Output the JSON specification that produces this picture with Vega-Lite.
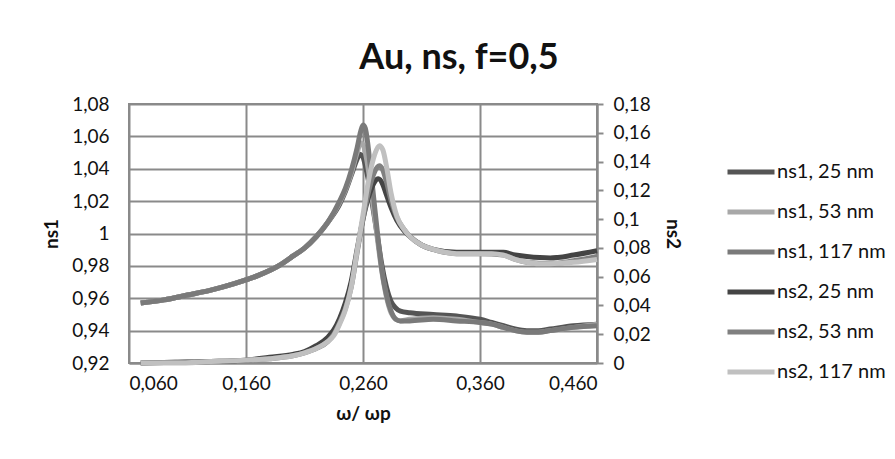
{
  "$schema": "https://vega.github.io/schema/vega-lite/v6.json",
  "autosize": {"type": "none"},
  "padding": {"left": 129, "top": 104, "right": 298, "bottom": 96},
  "width": 468,
  "height": 259,
  "background": "white",
  "config": {
    "locale": {"number": {"decimal": ",", "thousands": ".", "grouping": [3], "currency": ["", " €"]}},
    "font": "Lato",
    "view": {"stroke": "#8a8a8a", "strokeWidth": 2},
    "axis": {"labelFont": "Lato", "labelFontSize": 19, "labelColor": "#111", "titleFont": "Lato", "titleFontSize": 19, "titleFontWeight": "bold", "titleColor": "#111", "gridColor": "#8a8a8a", "gridWidth": 2, "domainColor": "#8a8a8a", "domainWidth": 2, "tickColor": "#8a8a8a", "tickWidth": 2},
    "title": {"font": "Lato", "fontSize": 36, "fontWeight": "bold", "color": "#111"}
  },
  "title": {"text": "Au, ns, f=0,5", "anchor": "middle", "dx": 96, "offset": 18},
  "datasets": {
    "d": [
      {"s": "ns1, 117 nm", "x": 0.07, "y": 0.957},
      {"s": "ns1, 117 nm", "x": 0.09, "y": 0.959},
      {"s": "ns1, 117 nm", "x": 0.11, "y": 0.962},
      {"s": "ns1, 117 nm", "x": 0.13, "y": 0.965},
      {"s": "ns1, 117 nm", "x": 0.15, "y": 0.969},
      {"s": "ns1, 117 nm", "x": 0.17, "y": 0.974},
      {"s": "ns1, 117 nm", "x": 0.19, "y": 0.981},
      {"s": "ns1, 117 nm", "x": 0.2, "y": 0.986},
      {"s": "ns1, 117 nm", "x": 0.21, "y": 0.991},
      {"s": "ns1, 117 nm", "x": 0.22, "y": 0.998},
      {"s": "ns1, 117 nm", "x": 0.23, "y": 1.007},
      {"s": "ns1, 117 nm", "x": 0.24, "y": 1.02},
      {"s": "ns1, 117 nm", "x": 0.245, "y": 1.028},
      {"s": "ns1, 117 nm", "x": 0.25, "y": 1.039},
      {"s": "ns1, 117 nm", "x": 0.255, "y": 1.053},
      {"s": "ns1, 117 nm", "x": 0.258, "y": 1.063},
      {"s": "ns1, 117 nm", "x": 0.26, "y": 1.067},
      {"s": "ns1, 117 nm", "x": 0.262, "y": 1.065},
      {"s": "ns1, 117 nm", "x": 0.264, "y": 1.056},
      {"s": "ns1, 117 nm", "x": 0.266, "y": 1.043},
      {"s": "ns1, 117 nm", "x": 0.268, "y": 1.03},
      {"s": "ns1, 117 nm", "x": 0.27, "y": 1.016},
      {"s": "ns1, 117 nm", "x": 0.273, "y": 0.996},
      {"s": "ns1, 117 nm", "x": 0.276, "y": 0.978},
      {"s": "ns1, 117 nm", "x": 0.28, "y": 0.962},
      {"s": "ns1, 117 nm", "x": 0.284, "y": 0.952},
      {"s": "ns1, 117 nm", "x": 0.288, "y": 0.947},
      {"s": "ns1, 117 nm", "x": 0.292, "y": 0.946},
      {"s": "ns1, 117 nm", "x": 0.3, "y": 0.946},
      {"s": "ns1, 117 nm", "x": 0.32, "y": 0.947},
      {"s": "ns1, 117 nm", "x": 0.34, "y": 0.946},
      {"s": "ns1, 117 nm", "x": 0.36, "y": 0.945},
      {"s": "ns1, 117 nm", "x": 0.37, "y": 0.944},
      {"s": "ns1, 117 nm", "x": 0.38, "y": 0.942},
      {"s": "ns1, 117 nm", "x": 0.39, "y": 0.94},
      {"s": "ns1, 117 nm", "x": 0.4, "y": 0.939},
      {"s": "ns1, 117 nm", "x": 0.41, "y": 0.939},
      {"s": "ns1, 117 nm", "x": 0.42, "y": 0.94},
      {"s": "ns1, 117 nm", "x": 0.44, "y": 0.942},
      {"s": "ns1, 117 nm", "x": 0.46, "y": 0.943},

      {"s": "ns1, 53 nm", "x": 0.07, "y": 0.957},
      {"s": "ns1, 53 nm", "x": 0.09, "y": 0.959},
      {"s": "ns1, 53 nm", "x": 0.11, "y": 0.962},
      {"s": "ns1, 53 nm", "x": 0.13, "y": 0.965},
      {"s": "ns1, 53 nm", "x": 0.15, "y": 0.969},
      {"s": "ns1, 53 nm", "x": 0.17, "y": 0.974},
      {"s": "ns1, 53 nm", "x": 0.19, "y": 0.981},
      {"s": "ns1, 53 nm", "x": 0.2, "y": 0.986},
      {"s": "ns1, 53 nm", "x": 0.21, "y": 0.991},
      {"s": "ns1, 53 nm", "x": 0.22, "y": 0.998},
      {"s": "ns1, 53 nm", "x": 0.23, "y": 1.007},
      {"s": "ns1, 53 nm", "x": 0.24, "y": 1.019},
      {"s": "ns1, 53 nm", "x": 0.245, "y": 1.027},
      {"s": "ns1, 53 nm", "x": 0.25, "y": 1.037},
      {"s": "ns1, 53 nm", "x": 0.255, "y": 1.05},
      {"s": "ns1, 53 nm", "x": 0.258, "y": 1.056},
      {"s": "ns1, 53 nm", "x": 0.26, "y": 1.055},
      {"s": "ns1, 53 nm", "x": 0.262, "y": 1.05},
      {"s": "ns1, 53 nm", "x": 0.264, "y": 1.042},
      {"s": "ns1, 53 nm", "x": 0.266, "y": 1.032},
      {"s": "ns1, 53 nm", "x": 0.268, "y": 1.021},
      {"s": "ns1, 53 nm", "x": 0.27, "y": 1.01},
      {"s": "ns1, 53 nm", "x": 0.273, "y": 0.993},
      {"s": "ns1, 53 nm", "x": 0.276, "y": 0.977},
      {"s": "ns1, 53 nm", "x": 0.28, "y": 0.961},
      {"s": "ns1, 53 nm", "x": 0.284, "y": 0.951},
      {"s": "ns1, 53 nm", "x": 0.288, "y": 0.947},
      {"s": "ns1, 53 nm", "x": 0.292, "y": 0.946},
      {"s": "ns1, 53 nm", "x": 0.3, "y": 0.947},
      {"s": "ns1, 53 nm", "x": 0.32, "y": 0.948},
      {"s": "ns1, 53 nm", "x": 0.34, "y": 0.947},
      {"s": "ns1, 53 nm", "x": 0.36, "y": 0.945},
      {"s": "ns1, 53 nm", "x": 0.37, "y": 0.944},
      {"s": "ns1, 53 nm", "x": 0.38, "y": 0.942},
      {"s": "ns1, 53 nm", "x": 0.39, "y": 0.94},
      {"s": "ns1, 53 nm", "x": 0.4, "y": 0.939},
      {"s": "ns1, 53 nm", "x": 0.41, "y": 0.939},
      {"s": "ns1, 53 nm", "x": 0.42, "y": 0.94},
      {"s": "ns1, 53 nm", "x": 0.44, "y": 0.942},
      {"s": "ns1, 53 nm", "x": 0.46, "y": 0.944},

      {"s": "ns1, 25 nm", "x": 0.07, "y": 0.957},
      {"s": "ns1, 25 nm", "x": 0.09, "y": 0.959},
      {"s": "ns1, 25 nm", "x": 0.11, "y": 0.962},
      {"s": "ns1, 25 nm", "x": 0.13, "y": 0.965},
      {"s": "ns1, 25 nm", "x": 0.15, "y": 0.969},
      {"s": "ns1, 25 nm", "x": 0.17, "y": 0.974},
      {"s": "ns1, 25 nm", "x": 0.19, "y": 0.981},
      {"s": "ns1, 25 nm", "x": 0.2, "y": 0.986},
      {"s": "ns1, 25 nm", "x": 0.21, "y": 0.991},
      {"s": "ns1, 25 nm", "x": 0.22, "y": 0.998},
      {"s": "ns1, 25 nm", "x": 0.23, "y": 1.007},
      {"s": "ns1, 25 nm", "x": 0.24, "y": 1.018},
      {"s": "ns1, 25 nm", "x": 0.245, "y": 1.026},
      {"s": "ns1, 25 nm", "x": 0.25, "y": 1.036},
      {"s": "ns1, 25 nm", "x": 0.255, "y": 1.046},
      {"s": "ns1, 25 nm", "x": 0.257, "y": 1.049},
      {"s": "ns1, 25 nm", "x": 0.26, "y": 1.047},
      {"s": "ns1, 25 nm", "x": 0.262, "y": 1.042},
      {"s": "ns1, 25 nm", "x": 0.264, "y": 1.035},
      {"s": "ns1, 25 nm", "x": 0.266, "y": 1.027},
      {"s": "ns1, 25 nm", "x": 0.268, "y": 1.018},
      {"s": "ns1, 25 nm", "x": 0.27, "y": 1.009},
      {"s": "ns1, 25 nm", "x": 0.273, "y": 0.995},
      {"s": "ns1, 25 nm", "x": 0.276, "y": 0.981},
      {"s": "ns1, 25 nm", "x": 0.28, "y": 0.967},
      {"s": "ns1, 25 nm", "x": 0.284, "y": 0.958},
      {"s": "ns1, 25 nm", "x": 0.288, "y": 0.954},
      {"s": "ns1, 25 nm", "x": 0.292, "y": 0.952},
      {"s": "ns1, 25 nm", "x": 0.3, "y": 0.951},
      {"s": "ns1, 25 nm", "x": 0.32, "y": 0.95},
      {"s": "ns1, 25 nm", "x": 0.34, "y": 0.949},
      {"s": "ns1, 25 nm", "x": 0.36, "y": 0.947},
      {"s": "ns1, 25 nm", "x": 0.37, "y": 0.945},
      {"s": "ns1, 25 nm", "x": 0.38, "y": 0.943},
      {"s": "ns1, 25 nm", "x": 0.39, "y": 0.941},
      {"s": "ns1, 25 nm", "x": 0.4, "y": 0.94},
      {"s": "ns1, 25 nm", "x": 0.41, "y": 0.94},
      {"s": "ns1, 25 nm", "x": 0.42, "y": 0.941},
      {"s": "ns1, 25 nm", "x": 0.44, "y": 0.943},
      {"s": "ns1, 25 nm", "x": 0.46, "y": 0.944},

      {"s": "ns2, 25 nm", "x": 0.07, "y": 0.0},
      {"s": "ns2, 25 nm", "x": 0.1, "y": 0.0005},
      {"s": "ns2, 25 nm", "x": 0.13, "y": 0.001},
      {"s": "ns2, 25 nm", "x": 0.16, "y": 0.002},
      {"s": "ns2, 25 nm", "x": 0.18, "y": 0.004},
      {"s": "ns2, 25 nm", "x": 0.2, "y": 0.006},
      {"s": "ns2, 25 nm", "x": 0.21, "y": 0.008},
      {"s": "ns2, 25 nm", "x": 0.22, "y": 0.012},
      {"s": "ns2, 25 nm", "x": 0.23, "y": 0.018},
      {"s": "ns2, 25 nm", "x": 0.235, "y": 0.023},
      {"s": "ns2, 25 nm", "x": 0.24, "y": 0.031},
      {"s": "ns2, 25 nm", "x": 0.245, "y": 0.042},
      {"s": "ns2, 25 nm", "x": 0.25, "y": 0.057},
      {"s": "ns2, 25 nm", "x": 0.255, "y": 0.079},
      {"s": "ns2, 25 nm", "x": 0.26, "y": 0.1},
      {"s": "ns2, 25 nm", "x": 0.265, "y": 0.116},
      {"s": "ns2, 25 nm", "x": 0.27, "y": 0.126},
      {"s": "ns2, 25 nm", "x": 0.273, "y": 0.128},
      {"s": "ns2, 25 nm", "x": 0.277, "y": 0.124},
      {"s": "ns2, 25 nm", "x": 0.28, "y": 0.117},
      {"s": "ns2, 25 nm", "x": 0.284, "y": 0.108},
      {"s": "ns2, 25 nm", "x": 0.289, "y": 0.099},
      {"s": "ns2, 25 nm", "x": 0.295, "y": 0.092},
      {"s": "ns2, 25 nm", "x": 0.3, "y": 0.088},
      {"s": "ns2, 25 nm", "x": 0.31, "y": 0.082},
      {"s": "ns2, 25 nm", "x": 0.32, "y": 0.079},
      {"s": "ns2, 25 nm", "x": 0.34, "y": 0.077},
      {"s": "ns2, 25 nm", "x": 0.36, "y": 0.077},
      {"s": "ns2, 25 nm", "x": 0.38, "y": 0.077},
      {"s": "ns2, 25 nm", "x": 0.39, "y": 0.075},
      {"s": "ns2, 25 nm", "x": 0.4, "y": 0.074},
      {"s": "ns2, 25 nm", "x": 0.42, "y": 0.073},
      {"s": "ns2, 25 nm", "x": 0.44, "y": 0.075},
      {"s": "ns2, 25 nm", "x": 0.46, "y": 0.078},

      {"s": "ns2, 53 nm", "x": 0.07, "y": 0.0},
      {"s": "ns2, 53 nm", "x": 0.1, "y": 0.0005},
      {"s": "ns2, 53 nm", "x": 0.13, "y": 0.001},
      {"s": "ns2, 53 nm", "x": 0.16, "y": 0.002},
      {"s": "ns2, 53 nm", "x": 0.18, "y": 0.003},
      {"s": "ns2, 53 nm", "x": 0.2, "y": 0.005},
      {"s": "ns2, 53 nm", "x": 0.21, "y": 0.007},
      {"s": "ns2, 53 nm", "x": 0.22, "y": 0.01},
      {"s": "ns2, 53 nm", "x": 0.23, "y": 0.015},
      {"s": "ns2, 53 nm", "x": 0.235, "y": 0.02},
      {"s": "ns2, 53 nm", "x": 0.24, "y": 0.028},
      {"s": "ns2, 53 nm", "x": 0.245, "y": 0.038},
      {"s": "ns2, 53 nm", "x": 0.25, "y": 0.053},
      {"s": "ns2, 53 nm", "x": 0.255, "y": 0.077},
      {"s": "ns2, 53 nm", "x": 0.26, "y": 0.1},
      {"s": "ns2, 53 nm", "x": 0.265, "y": 0.12},
      {"s": "ns2, 53 nm", "x": 0.27, "y": 0.133},
      {"s": "ns2, 53 nm", "x": 0.274, "y": 0.137},
      {"s": "ns2, 53 nm", "x": 0.277, "y": 0.134},
      {"s": "ns2, 53 nm", "x": 0.28, "y": 0.126},
      {"s": "ns2, 53 nm", "x": 0.284, "y": 0.113},
      {"s": "ns2, 53 nm", "x": 0.289, "y": 0.101},
      {"s": "ns2, 53 nm", "x": 0.295, "y": 0.093},
      {"s": "ns2, 53 nm", "x": 0.3, "y": 0.088},
      {"s": "ns2, 53 nm", "x": 0.31, "y": 0.082},
      {"s": "ns2, 53 nm", "x": 0.32, "y": 0.079},
      {"s": "ns2, 53 nm", "x": 0.34, "y": 0.076},
      {"s": "ns2, 53 nm", "x": 0.36, "y": 0.076},
      {"s": "ns2, 53 nm", "x": 0.38, "y": 0.075},
      {"s": "ns2, 53 nm", "x": 0.39, "y": 0.072},
      {"s": "ns2, 53 nm", "x": 0.4, "y": 0.07},
      {"s": "ns2, 53 nm", "x": 0.42, "y": 0.069},
      {"s": "ns2, 53 nm", "x": 0.44, "y": 0.071},
      {"s": "ns2, 53 nm", "x": 0.46, "y": 0.074},

      {"s": "ns2, 117 nm", "x": 0.07, "y": 0.0},
      {"s": "ns2, 117 nm", "x": 0.1, "y": 0.0},
      {"s": "ns2, 117 nm", "x": 0.13, "y": 0.001},
      {"s": "ns2, 117 nm", "x": 0.16, "y": 0.002},
      {"s": "ns2, 117 nm", "x": 0.18, "y": 0.003},
      {"s": "ns2, 117 nm", "x": 0.2, "y": 0.005},
      {"s": "ns2, 117 nm", "x": 0.21, "y": 0.007},
      {"s": "ns2, 117 nm", "x": 0.22, "y": 0.01},
      {"s": "ns2, 117 nm", "x": 0.23, "y": 0.015},
      {"s": "ns2, 117 nm", "x": 0.235, "y": 0.019},
      {"s": "ns2, 117 nm", "x": 0.24, "y": 0.027},
      {"s": "ns2, 117 nm", "x": 0.245, "y": 0.037},
      {"s": "ns2, 117 nm", "x": 0.25, "y": 0.053},
      {"s": "ns2, 117 nm", "x": 0.255, "y": 0.078},
      {"s": "ns2, 117 nm", "x": 0.26, "y": 0.103},
      {"s": "ns2, 117 nm", "x": 0.265, "y": 0.128},
      {"s": "ns2, 117 nm", "x": 0.27, "y": 0.145},
      {"s": "ns2, 117 nm", "x": 0.274, "y": 0.151},
      {"s": "ns2, 117 nm", "x": 0.277, "y": 0.148},
      {"s": "ns2, 117 nm", "x": 0.28, "y": 0.137},
      {"s": "ns2, 117 nm", "x": 0.284, "y": 0.118},
      {"s": "ns2, 117 nm", "x": 0.289, "y": 0.102},
      {"s": "ns2, 117 nm", "x": 0.295, "y": 0.093},
      {"s": "ns2, 117 nm", "x": 0.3, "y": 0.088},
      {"s": "ns2, 117 nm", "x": 0.31, "y": 0.082},
      {"s": "ns2, 117 nm", "x": 0.32, "y": 0.079},
      {"s": "ns2, 117 nm", "x": 0.33, "y": 0.077},
      {"s": "ns2, 117 nm", "x": 0.34, "y": 0.076},
      {"s": "ns2, 117 nm", "x": 0.36, "y": 0.076},
      {"s": "ns2, 117 nm", "x": 0.37, "y": 0.076},
      {"s": "ns2, 117 nm", "x": 0.38, "y": 0.075},
      {"s": "ns2, 117 nm", "x": 0.39, "y": 0.072},
      {"s": "ns2, 117 nm", "x": 0.4, "y": 0.07},
      {"s": "ns2, 117 nm", "x": 0.41, "y": 0.069},
      {"s": "ns2, 117 nm", "x": 0.42, "y": 0.069},
      {"s": "ns2, 117 nm", "x": 0.44, "y": 0.07},
      {"s": "ns2, 117 nm", "x": 0.46, "y": 0.072}
    ]
  },
  "data": {"name": "d"},
  "encoding": {
    "x": {"field": "x", "type": "quantitative", "scale": {"domain": [0.06, 0.46], "nice": false, "zero": false},
      "axis": {"values": [0.06, 0.16, 0.26, 0.36, 0.46], "format": ".3f", "title": "ω/ ωp", "ticks": false, "labelPadding": 11, "titlePadding": 11, "domain": true}},
    "color": {"field": "s", "type": "nominal",
      "scale": {"domain": ["ns1, 25 nm", "ns1, 53 nm", "ns1, 117 nm", "ns2, 25 nm", "ns2, 53 nm", "ns2, 117 nm"],
                "range": ["#555555", "#a8a8a8", "#7a7a7a", "#444444", "#808080", "#c0c0c0"]},
      "legend": {"title": null, "orient": "none", "legendX": 596, "legendY": 42, "symbolType": "stroke", "symbolSize": 2209, "symbolStrokeWidth": 5, "labelFontSize": 20, "labelFont": "Lato", "labelColor": "#111", "labelOffset": 0, "rowPadding": 4}}
  },
  "layer": [
    {
      "encoding": {
        "y": {"field": "y", "type": "quantitative", "scale": {"domain": [0.92, 1.08], "nice": false, "zero": false},
          "axis": {"values": [0.92, 0.94, 0.96, 0.98, 1.0, 1.02, 1.04, 1.06, 1.08], "format": ".2~f", "title": "ns1", "ticks": false, "domain": false, "labelPadding": 20, "titlePadding": 10}}
      },
      "layer": [
        {"transform": [{"filter": "datum.s == 'ns1, 25 nm'"}], "mark": {"type": "line", "strokeWidth": 5, "interpolate": "monotone"}, "encoding": {}},
        {"transform": [{"filter": "datum.s == 'ns1, 53 nm'"}], "mark": {"type": "line", "strokeWidth": 5, "interpolate": "monotone"}, "encoding": {}},
        {"transform": [{"filter": "datum.s == 'ns1, 117 nm'"}], "mark": {"type": "line", "strokeWidth": 5, "interpolate": "monotone"}, "encoding": {}}
      ]
    },
    {
      "encoding": {
        "y": {"field": "y", "type": "quantitative", "scale": {"domain": [0, 0.18], "nice": false, "zero": false},
          "axis": {"orient": "right", "values": [0, 0.02, 0.04, 0.06, 0.08, 0.1, 0.12, 0.14, 0.16, 0.18], "format": ".2~f", "title": "ns2", "grid": false, "ticks": true, "tickSize": 6, "domain": true, "labelPadding": 10, "titlePadding": 12}}
      },
      "layer": [
        {"transform": [{"filter": "datum.s == 'ns2, 25 nm'"}], "mark": {"type": "line", "strokeWidth": 5, "interpolate": "monotone"}, "encoding": {}},
        {"transform": [{"filter": "datum.s == 'ns2, 53 nm'"}], "mark": {"type": "line", "strokeWidth": 5, "interpolate": "monotone"}, "encoding": {}},
        {"transform": [{"filter": "datum.s == 'ns2, 117 nm'"}], "mark": {"type": "line", "strokeWidth": 5, "interpolate": "monotone"}, "encoding": {}}
      ]
    }
  ],
  "resolve": {"scale": {"y": "independent"}, "axis": {"y": "independent"}}
}
